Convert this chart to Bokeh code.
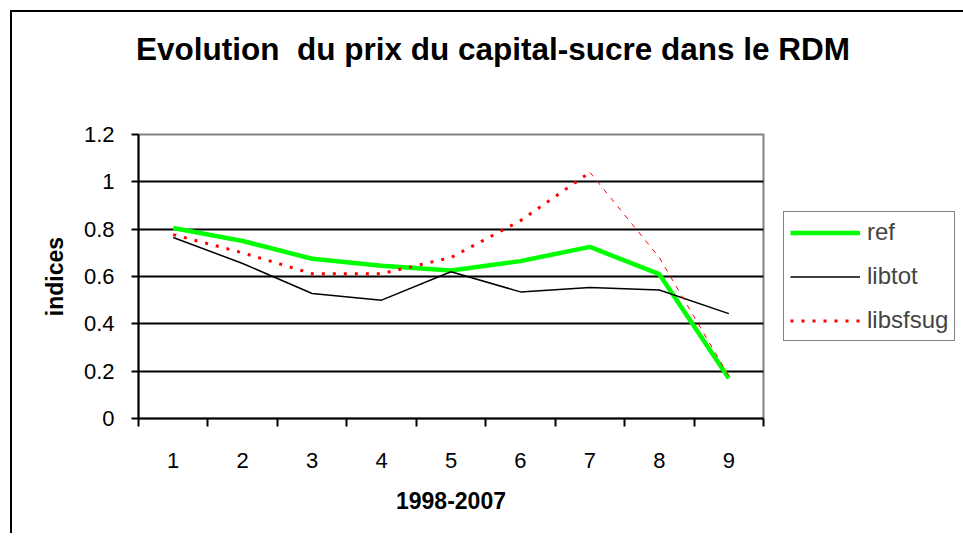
from bokeh.plotting import figure
from bokeh.models import FixedTicker, Legend, LegendItem, Div
from bokeh.layouts import column
from bokeh.embed import file_html
from bokeh.resources import INLINE

# ---- data ----
categories = ["1", "2", "3", "4", "5", "6", "7", "8", "9"]
ref = [0.805, 0.75, 0.675, 0.645, 0.625, 0.665, 0.725, 0.61, 0.17]
libtot = [0.765, 0.655, 0.528, 0.50, 0.62, 0.535, 0.553, 0.543, 0.443]
libsfsug = [0.777, 0.70, 0.612, 0.612, 0.68, 0.836, 1.04, 0.68, 0.18]
y_ticks = [0, 0.2, 0.4, 0.6, 0.8, 1.0, 1.2]
y_tick_labels = ["0", "0.2", "0.4", "0.6", "0.8", "1", "1.2"]
title_text = "Evolution&nbsp; du prix du capital-sucre dans le RDM"
x_label = "1998-2007"
y_label = "indices"

xs = list(range(1, len(categories) + 1))
FONT = "Liberation Sans"

title_div = Div(text=f'<div style="padding-left:124px;padding-top:19px;'
                     f'font-family:\'{FONT}\';font-weight:bold;font-size:31.5px;'
                     f'line-height:normal;white-space:nowrap;color:black;">{title_text}</div>',
                width=900, height=80, margin=(0, 0, 0, 0))

p = figure(frame_width=625, frame_height=284, output_backend="svg", toolbar_location=None,
           x_range=(0.5, len(categories) + 0.5), y_range=(0, 1.2),
           min_border_left=126, min_border_right=0, min_border_top=42, min_border_bottom=115,
           background_fill_color="white", border_fill_color="white")

# lines
r_ref = p.line(xs, ref, line_color="#00FF00", line_width=4.5)
r_lib = p.line(xs, libtot, line_color="black", line_width=1.5)
r_sf1 = p.line(xs[:7], libsfsug[:7], line_color="#FF0000", line_width=3, line_dash="3 8")
r_sf2 = p.line(xs[6:], libsfsug[6:], line_color="#FF0000", line_width=1, line_dash="5 6")

# axes
xa = p.xaxis[0]
xa.ticker = FixedTicker(ticks=xs, minor_ticks=[x - 0.5 for x in xs] + [xs[-1] + 0.5])
xa.major_label_overrides = {x: c for x, c in zip(xs, categories)}
xa.major_tick_out = 0
xa.major_tick_in = 0
xa.minor_tick_out = 8
xa.minor_tick_in = 0
xa.minor_tick_line_width = 2
xa.minor_tick_line_color = "black"
xa.axis_line_width = 2
xa.axis_line_color = "black"
xa.major_label_standoff = 26
xa.major_label_text_font = FONT
xa.major_label_text_font_size = "22px"
xa.major_label_text_color = "black"
xa.axis_label = x_label
xa.axis_label_text_font = FONT
xa.axis_label_text_font_size = "23px"
xa.axis_label_text_font_style = "bold"
xa.axis_label_text_color = "black"
xa.axis_label_standoff = 21

ya = p.yaxis[0]
ya.ticker = FixedTicker(ticks=y_ticks, minor_ticks=[])
ya.major_label_overrides = {t: l for t, l in zip(y_ticks, y_tick_labels)}
ya.major_tick_out = 7
ya.major_tick_in = 0
ya.major_tick_line_width = 2
ya.major_tick_line_color = "black"
ya.axis_line_width = 2
ya.axis_line_color = "black"
ya.major_label_standoff = 17
ya.major_label_text_font = FONT
ya.major_label_text_font_size = "22px"
ya.major_label_text_color = "black"
ya.axis_label = y_label
ya.axis_label_text_font = FONT
ya.axis_label_text_font_size = "23px"
ya.axis_label_text_font_style = "bold"
ya.axis_label_text_color = "black"
ya.axis_label_standoff = 13

p.xgrid.visible = False
p.ygrid.ticker = FixedTicker(ticks=y_ticks)
p.ygrid.grid_line_color = "black"
p.ygrid.grid_line_width = 2

p.outline_line_color = "#808080"
p.outline_line_width = 2

legend = Legend(items=[LegendItem(label="ref", renderers=[r_ref]),
                       LegendItem(label="libtot", renderers=[r_lib]),
                       LegendItem(label="libsfsug", renderers=[r_sf1])],
                location="center_left", margin=20, padding=6, spacing=16,
                glyph_width=70, glyph_height=27, label_standoff=7,
                label_text_font=FONT, label_text_font_size="24px",
                border_line_color="black", border_line_width=1.5,
                background_fill_color="white", background_fill_alpha=1)
p.add_layout(legend, "right")

layout = column(title_div, p, spacing=0)
layout.styles = {"margin-left": "10px", "margin-top": "10px",
                 "border-left": "2px solid black", "border-top": "2px solid black"}

open("out.html", "w").write(file_html(layout, INLINE))
